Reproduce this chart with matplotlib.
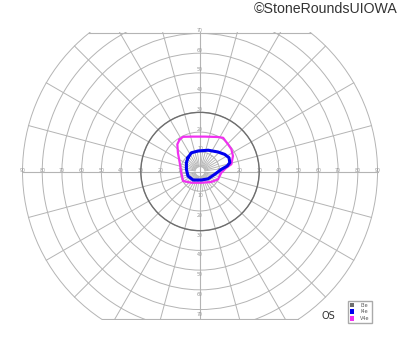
import numpy as np
import matplotlib.pyplot as plt
from matplotlib.patches import Patch, Circle

# visual field chart, degrees
ring_deg = [10, 20, 30, 40, 50, 60, 70, 80, 90]
meridian_step = 15
h_labels = [10, 20, 30, 40, 50, 60, 70, 80, 90]
v_labels = [10, 20, 30, 40, 50, 60, 70]

# isopters (x, y in degrees)
i3e_radius = 30
i4e_x = [-6.1, -4.4, -1.0, 4.1, 9.1, 12.5, 14.7, 15.1, 13.8, 10.8, 7.5, 4.1, 0.7, -3.5, -6.1, -6.9, -6.9]
i4e_y = [7.0, 9.5, 10.4, 10.8, 9.9, 8.7, 7.0, 4.5, 2.8, 1.1, -1.4, -3.7, -4.3, -4.3, -2.3, 1.1, 4.5]
v4e_x = [-10.3, -8.6, -4.1, 2.5, 9.1, 11.7, 14.2, 15.9, 16.7, 15.9, 13.3, 10.8, 9.1, 5.7, 0.7, -4.4, -8.6, -9.5, -10.3, -11.2, -11.5]
v4e_y = [16.3, 17.6, 17.7, 17.7, 17.5, 17.1, 13.8, 11.3, 7.9, 3.7, 1.9, -0.6, -4.0, -5.3, -5.7, -5.7, -4.8, -0.6, 4.5, 9.5, 13.8]

legend_names = ['I3e', 'I4e', 'V4e']
legend_cols = ['#6e6e6e', '#0000ee', '#f030f0']

grid_col = '#b4b4b4'
top_lim, bot_lim = 70.5, -75.3

fig = plt.figure(figsize=(4, 3.52), dpi=100)
ax = fig.add_axes([0.0538, 0.0909, 0.8925, 0.8168])
ax.set_xlim(-90.5, 90.5)
ax.set_ylim(bot_lim, top_lim)
ax.axis('off')

# rings
for r in ring_deg:
    ax.add_patch(Circle((0, 0), r, fill=False, ec=grid_col, lw=0.7, zorder=1))

# flat top/bottom edges
for yl in [top_lim - 0.3, bot_lim + 0.3]:
    dx = np.sqrt(90**2 - yl**2)
    ax.plot([-dx, dx], [yl, yl], color=grid_col, lw=0.8, zorder=1)

# meridians
for a in range(0, 360, meridian_step):
    t = np.radians(a)
    ax.plot([2.5*np.cos(t), 90*np.cos(t)], [2.5*np.sin(t), 90*np.sin(t)], color=grid_col, lw=0.7, zorder=1)
    t2 = np.radians(a + 7.5)
    ax.plot([2.5*np.cos(t2), 10*np.cos(t2)], [2.5*np.sin(t2), 10*np.sin(t2)], color=grid_col, lw=0.6, zorder=1)
ax.plot([-90, 90], [0, 0], color=grid_col, lw=0.8, zorder=1)
ax.plot([0, 0], [bot_lim, top_lim], color=grid_col, lw=0.8, zorder=1)

# scale numbers
for v in h_labels:
    ax.text(-v, 0.6, str(v), fontsize=3.4, color='#999999', ha='center', va='center', zorder=2)
    ax.text(v, 0.6, str(v), fontsize=3.4, color='#999999', ha='center', va='center', zorder=2)
for v in v_labels:
    ax.text(0, v + 1.5, str(v), fontsize=3.4, color='#999999', ha='center', va='center', zorder=2)
    ax.text(0, -v - 2.3, str(v), fontsize=3.4, color='#999999', ha='center', va='center', zorder=2)

# isopters
ax.add_patch(Circle((0, 0), i3e_radius, fill=False, ec=legend_cols[0], lw=1.0, zorder=3))
ax.plot(v4e_x + v4e_x[:1], v4e_y + v4e_y[:1], color=legend_cols[2], lw=1.6, solid_joinstyle='round', zorder=4)
ax.plot(i4e_x + i4e_x[:1], i4e_y + i4e_y[:1], color=legend_cols[1], lw=2.2, solid_joinstyle='round', zorder=5)

handles = [Patch(fc=c, ec='none', label=n) for n, c in zip(legend_names, legend_cols)]
fig.legend(handles=handles, loc='upper left', bbox_to_anchor=(345.5/400, 1 - 298.5/352),
           fontsize=3.5, handlelength=1.0, handleheight=1.0, handletextpad=1.2,
           labelspacing=0.35, borderpad=0.35, frameon=True, fancybox=False,
           edgecolor='#aaaaaa', framealpha=1, labelcolor='#555555')

fig.text(322/400, 1 - 316/352, 'OS', fontsize=7, color='#333333', va='center', ha='left')
fig.text(398/400, 1 - 9/352, '©StoneRoundsUIOWA', fontsize=10.2, color='#333333',
         family='Liberation Sans', ha='right', va='center')

fig.savefig('out.png', dpi=100)
